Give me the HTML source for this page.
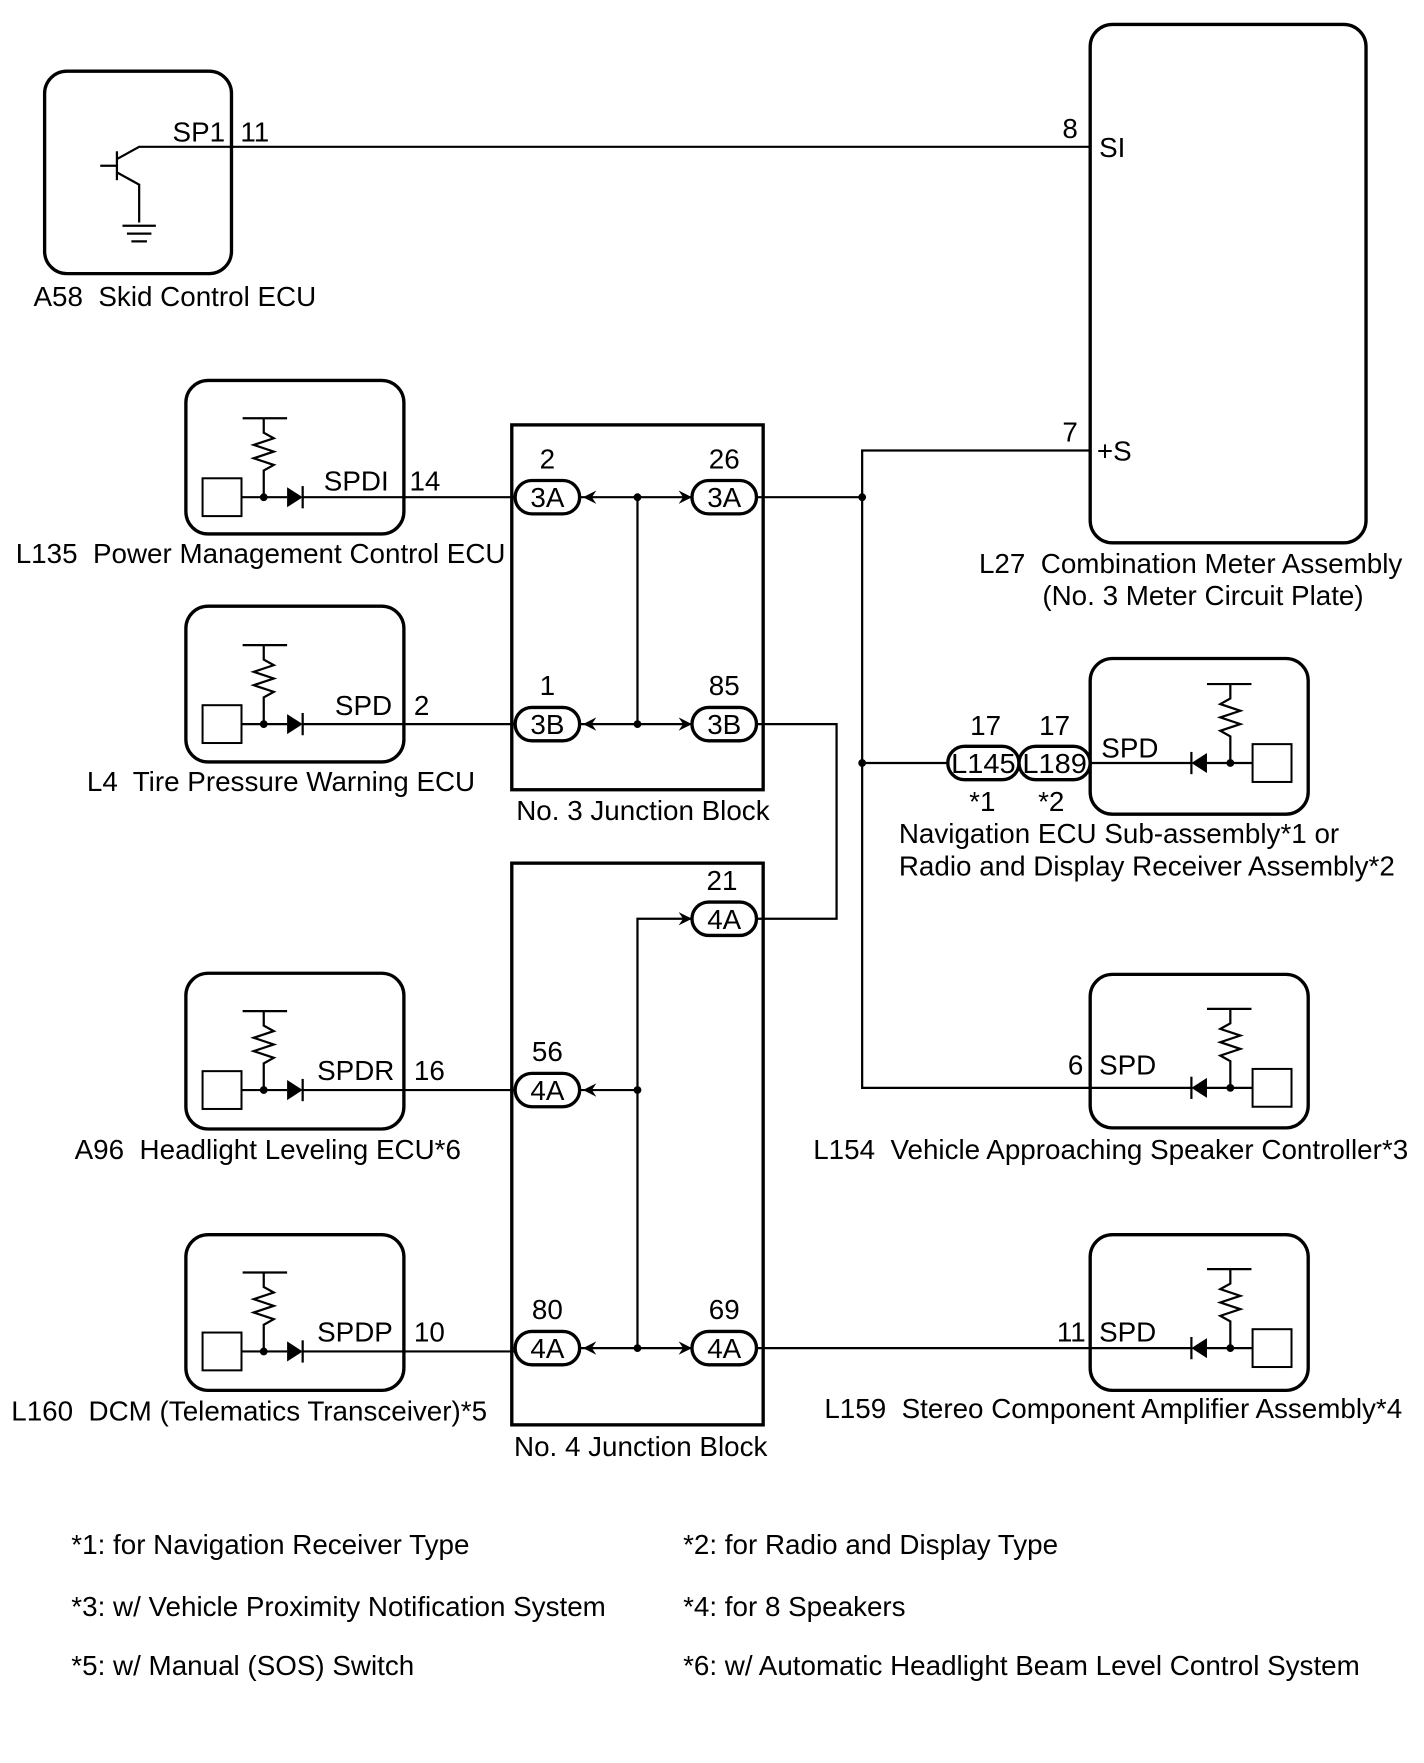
<!DOCTYPE html>
<html><head><meta charset="utf-8"><style>
html,body{margin:0;padding:0;background:#fff}
svg{display:block}
text{font-family:"Liberation Sans",Arial,sans-serif;font-size:25px;fill:#000;white-space:pre}
</style></head><body>
<svg width="1424" height="1763" viewBox="0 0 1280 1585" xmlns="http://www.w3.org/2000/svg" xml:space="preserve">
<defs>
<g id="dev" fill="none" stroke="#000" stroke-width="2">
  <rect x="182" y="-17" width="35" height="34" stroke-width="1.8"/>
  <line x1="217" y1="0" x2="258" y2="0"/>
  <circle cx="237" cy="0" r="3.5" fill="#000" stroke="none"/>
  <line x1="218" y1="-71" x2="258" y2="-71"/>
  <polyline points="237,-71 237,-58 246,-53 228,-47 246,-41 228,-35 246,-29 237,-24 237,0"/>
  <polygon points="258,-9 258,9 272,0" fill="#000" stroke="none"/>
  <line x1="272" y1="-10" x2="272" y2="10"/>
</g>
<g id="pill"><rect x="-29" y="-15" width="58" height="30" rx="15" fill="#fff" stroke="#000" stroke-width="3"/></g>
<g id="al"><polygon points="0,0 12,-6 8,0 12,6" fill="#000"/></g>
<g id="ar"><polygon points="0,0 -12,-6 -8,0 -12,6" fill="#000"/></g>
</defs>

<g fill="none" stroke="#000" stroke-width="2">
  <rect x="40" y="64" width="168" height="182" rx="20" stroke-width="3"/>
  <line x1="105" y1="136" x2="105" y2="162"/>
  <line x1="90" y1="149" x2="105" y2="149"/>
  <polyline points="105,143 125,132 980,132"/>
  <polyline points="105,155 125,166 125,200"/>
  <line x1="110" y1="203" x2="140" y2="203"/>
  <line x1="114" y1="210" x2="136" y2="210"/>
  <line x1="118" y1="217" x2="132" y2="217"/>
  <rect x="980" y="22" width="248" height="466" rx="20" stroke-width="3"/>
  <rect x="167" y="342" width="196" height="138" rx="20" stroke-width="3"/>
  <rect x="167" y="545" width="196" height="140" rx="20" stroke-width="3"/>
  <rect x="167" y="875" width="196" height="140" rx="20" stroke-width="3"/>
  <rect x="167" y="1110" width="196" height="140" rx="20" stroke-width="3"/>
  <rect x="980" y="592" width="196" height="140" rx="20" stroke-width="3"/>
  <rect x="980" y="876" width="196" height="138" rx="20" stroke-width="3"/>
  <rect x="980" y="1110" width="196" height="140" rx="20" stroke-width="3"/>
  <rect x="460" y="382" width="226" height="328" stroke-width="3"/>
  <rect x="460" y="776" width="226" height="505" stroke-width="3"/>
  <line x1="272" y1="447" x2="463" y2="447"/>
  <line x1="272" y1="651" x2="463" y2="651"/>
  <line x1="272" y1="980" x2="463" y2="980"/>
  <line x1="272" y1="1215" x2="463" y2="1215"/>
  <line x1="521" y1="447" x2="622" y2="447"/>
  <line x1="521" y1="651" x2="622" y2="651"/>
  <line x1="573" y1="447" x2="573" y2="651"/>
  <polyline points="622,826 573,826 573,1212"/>
  <line x1="521" y1="980" x2="573" y2="980"/>
  <line x1="521" y1="1212" x2="622" y2="1212"/>
  <line x1="680" y1="447" x2="775" y2="447"/>
  <polyline points="980,405 775,405 775,978 1071,978"/>
  <line x1="775" y1="686" x2="1071" y2="686"/>
  <polyline points="680,651 752,651 752,826 680,826"/>
  <line x1="680" y1="1212" x2="1071" y2="1212"/>
</g>
<g fill="#000">
  <circle cx="573" cy="447" r="3.5"/><circle cx="573" cy="651" r="3.5"/>
  <circle cx="573" cy="980" r="3.5"/><circle cx="573" cy="1212" r="3.5"/>
  <circle cx="775" cy="447" r="3.5"/><circle cx="775" cy="686" r="3.5"/>
</g>
<use href="#dev" transform="translate(0,447)"/>
<use href="#dev" transform="translate(0,651)"/>
<use href="#dev" transform="translate(0,980)"/>
<use href="#dev" transform="translate(0,1215)"/>
<use href="#dev" transform="translate(1343,686) scale(-1,1)"/>
<use href="#dev" transform="translate(1343,978) scale(-1,1)"/>
<use href="#dev" transform="translate(1343,1212) scale(-1,1)"/>

<use href="#al" transform="translate(524,447)"/><use href="#ar" transform="translate(622,447)"/>
<use href="#al" transform="translate(524,651)"/><use href="#ar" transform="translate(622,651)"/>
<use href="#ar" transform="translate(622,826)"/>
<use href="#al" transform="translate(524,980)"/>
<use href="#al" transform="translate(524,1212)"/><use href="#ar" transform="translate(622,1212)"/>

<use href="#pill" transform="translate(492,447)"/><use href="#pill" transform="translate(651,447)"/>
<use href="#pill" transform="translate(492,651)"/><use href="#pill" transform="translate(651,651)"/>
<use href="#pill" transform="translate(651,826)"/><use href="#pill" transform="translate(492,980)"/>
<use href="#pill" transform="translate(492,1212)"/><use href="#pill" transform="translate(651,1212)"/>
<rect x="852" y="671" width="64" height="30" rx="15" fill="#fff" stroke="#000" stroke-width="3"/>
<rect x="916" y="671" width="64" height="30" rx="15" fill="#fff" stroke="#000" stroke-width="3"/>

<g text-anchor="middle">
  <text x="492" y="456">3A</text><text x="651" y="456">3A</text>
  <text x="492" y="660">3B</text><text x="651" y="660">3B</text>
  <text x="651" y="835">4A</text><text x="492" y="989">4A</text>
  <text x="492" y="1221">4A</text><text x="651" y="1221">4A</text>
  <text x="884" y="695" textLength="58" lengthAdjust="spacingAndGlyphs">L145</text>
  <text x="948" y="695" textLength="58" lengthAdjust="spacingAndGlyphs">L189</text>
  <text x="492" y="421">2</text><text x="651" y="421">26</text>
  <text x="492" y="625">1</text><text x="651" y="625">85</text>
  <text x="649" y="800">21</text><text x="492" y="954">56</text>
  <text x="492" y="1186">80</text><text x="651" y="1186">69</text>
  <text x="886" y="661">17</text><text x="948" y="661">17</text>
  <text x="883" y="729">*1</text><text x="945" y="729">*2</text>
</g>
<text x="155" y="127">SP1</text><text x="216" y="127">11</text>
<text x="30" y="275">A58  Skid Control ECU</text>
<text x="955" y="124">8</text><text x="988" y="141">SI</text>
<text x="955" y="397">7</text><text x="986" y="414">+S</text>
<text x="880" y="515">L27  Combination Meter Assembly</text>
<text x="937" y="544">(No. 3 Meter Circuit Plate)</text>
<text x="291" y="441">SPDI</text><text x="368" y="441">14</text>
<text x="301" y="643">SPD</text><text x="372" y="643">2</text>
<text x="285" y="971">SPDR</text><text x="372" y="971">16</text>
<text x="285" y="1206">SPDP</text><text x="372" y="1206">10</text>
<text x="14" y="506">L135  Power Management Control ECU</text>
<text x="78" y="711">L4  Tire Pressure Warning ECU</text>
<text x="464" y="737">No. 3 Junction Block</text>
<text x="67" y="1042">A96  Headlight Leveling ECU*6</text>
<text x="10" y="1277">L160  DCM (Telematics Transceiver)*5</text>
<text x="462" y="1309">No. 4 Junction Block</text>
<text x="990" y="681">SPD</text>
<text x="808" y="758">Navigation ECU Sub-assembly*1 or</text>
<text x="808" y="787">Radio and Display Receiver Assembly*2</text>
<text x="960" y="966">6</text><text x="988" y="966">SPD</text>
<text x="731" y="1042">L154  Vehicle Approaching Speaker Controller*3</text>
<text x="950" y="1206">11</text><text x="988" y="1206">SPD</text>
<text x="741" y="1275">L159  Stereo Component Amplifier Assembly*4</text>
<text x="64" y="1397">*1: for Navigation Receiver Type</text>
<text x="614" y="1397">*2: for Radio and Display Type</text>
<text x="64" y="1453">*3: w/ Vehicle Proximity Notification System</text>
<text x="614" y="1453">*4: for 8 Speakers</text>
<text x="64" y="1506">*5: w/ Manual (SOS) Switch</text>
<text x="614" y="1506">*6: w/ Automatic Headlight Beam Level Control System</text>
</svg>
</body></html>
